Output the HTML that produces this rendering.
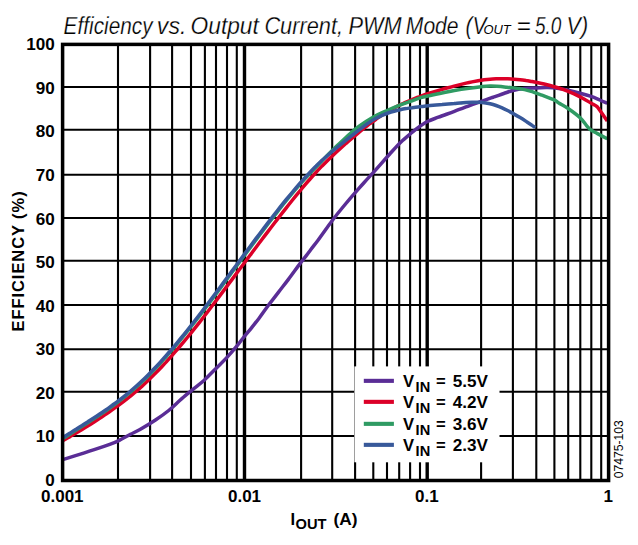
<!DOCTYPE html>
<html lang="en"><head><meta charset="utf-8"><title>Efficiency vs. Output Current</title>
<style>html,body{margin:0;padding:0;background:#fff}svg{display:block}text{font-family:"Liberation Sans",Arial,sans-serif;fill:#000}.b{font-weight:bold}.t{font-style:italic;font-size:23.4px;stroke:#fff;stroke-width:.25px;paint-order:fill stroke}.ts{font-style:italic;font-size:12.8px}</style></head><body>
<svg width="638" height="545" viewBox="0 0 638 545">
<rect width="638" height="545" fill="#fff"/>
<g stroke="#000" stroke-width="2.1" fill="none">
<line x1="118.0" y1="44.4" x2="118.0" y2="480.5"/>
<line x1="150.1" y1="44.4" x2="150.1" y2="480.5"/>
<line x1="172.1" y1="44.4" x2="172.1" y2="480.5"/>
<line x1="191.0" y1="44.4" x2="191.0" y2="480.5"/>
<line x1="204.9" y1="44.4" x2="204.9" y2="480.5"/>
<line x1="216.0" y1="44.4" x2="216.0" y2="480.5"/>
<line x1="227.0" y1="44.4" x2="227.0" y2="480.5"/>
<line x1="236.8" y1="44.4" x2="236.8" y2="480.5"/>
<line x1="301.1" y1="44.4" x2="301.1" y2="480.5"/>
<line x1="332.2" y1="44.4" x2="332.2" y2="480.5"/>
<line x1="355.1" y1="44.4" x2="355.1" y2="480.5"/>
<line x1="373.3" y1="44.4" x2="373.3" y2="480.5"/>
<line x1="387.0" y1="44.4" x2="387.0" y2="480.5"/>
<line x1="399.2" y1="44.4" x2="399.2" y2="480.5"/>
<line x1="410.1" y1="44.4" x2="410.1" y2="480.5"/>
<line x1="420.0" y1="44.4" x2="420.0" y2="480.5"/>
<line x1="481.1" y1="44.4" x2="481.1" y2="480.5"/>
<line x1="512.9" y1="44.4" x2="512.9" y2="480.5"/>
<line x1="536.3" y1="44.4" x2="536.3" y2="480.5"/>
<line x1="554.4" y1="44.4" x2="554.4" y2="480.5"/>
<line x1="568.2" y1="44.4" x2="568.2" y2="480.5"/>
<line x1="580.3" y1="44.4" x2="580.3" y2="480.5"/>
<line x1="591.3" y1="44.4" x2="591.3" y2="480.5"/>
<line x1="601.2" y1="44.4" x2="601.2" y2="480.5"/>
<line x1="62.6" y1="87.0" x2="608.6" y2="87.0"/>
<line x1="62.6" y1="129.8" x2="608.6" y2="129.8"/>
<line x1="62.6" y1="174.8" x2="608.6" y2="174.8"/>
<line x1="62.6" y1="218.0" x2="608.6" y2="218.0"/>
<line x1="62.6" y1="260.7" x2="608.6" y2="260.7"/>
<line x1="62.6" y1="305.0" x2="608.6" y2="305.0"/>
<line x1="62.6" y1="349.2" x2="608.6" y2="349.2"/>
<line x1="62.6" y1="391.8" x2="608.6" y2="391.8"/>
<line x1="62.6" y1="436.0" x2="608.6" y2="436.0"/>
</g>
<g stroke="#000" stroke-width="3.4" fill="none">
<line x1="244.5" y1="44.4" x2="244.5" y2="480.5"/>
<line x1="427.2" y1="44.4" x2="427.2" y2="480.5"/>
</g>
<g fill="none" stroke-width="3.5" stroke-linejoin="round" stroke-linecap="butt">
<path stroke="#5a2d96" d="M62.5,459.7 C62.8,459.6 62.4,459.7 64.4,459.1 C66.4,458.5 70.5,457.2 74.7,455.9 C78.9,454.6 84.5,452.8 89.4,451.2 C94.3,449.6 99.8,447.8 104.0,446.4 C108.2,445.0 111.3,443.9 114.3,442.7 C117.2,441.5 119.0,440.4 121.7,439.0 C124.4,437.6 127.5,435.9 130.5,434.3 C133.6,432.7 135.8,431.9 140.0,429.5 C144.2,427.1 150.7,423.2 155.5,420.0 C160.3,416.8 164.6,413.8 168.7,410.5 C172.8,407.2 176.2,403.7 180.0,400.3 C183.8,396.9 187.7,393.7 191.7,390.3 C195.7,386.9 200.1,383.9 204.2,380.2 C208.2,376.5 212.2,372.2 216.0,368.4 C219.8,364.6 223.5,361.2 227.0,357.4 C230.5,353.6 234.3,349.2 237.2,345.7 C240.1,342.1 242.1,339.2 244.6,336.1 C247.1,333.0 249.5,330.3 251.9,327.3 C254.3,324.3 256.3,321.9 259.1,318.2 C261.9,314.5 265.4,309.3 268.6,305.0 C271.8,300.7 274.9,296.9 278.2,292.6 C281.5,288.3 285.0,283.9 288.4,279.4 C291.8,274.9 295.8,269.3 298.7,265.4 C301.6,261.5 304.1,258.5 306.1,255.9 C308.1,253.3 308.5,252.7 310.5,250.0 C312.5,247.3 314.6,244.8 318.2,240.0 C321.8,235.2 327.8,226.5 331.9,221.0 C336.0,215.5 339.1,211.7 343.0,207.0 C346.9,202.3 351.4,197.0 355.0,192.9 C358.6,188.8 361.4,185.5 364.4,182.2 C367.4,178.8 370.2,175.9 373.0,172.8 C375.8,169.7 378.2,167.0 381.0,163.8 C383.8,160.6 386.7,157.3 390.0,153.7 C393.3,150.0 397.3,145.4 401.0,141.9 C404.7,138.4 408.9,135.1 412.0,132.5 C415.1,129.9 417.1,128.3 419.7,126.5 C422.3,124.7 424.3,123.0 427.4,121.5 C430.5,120.0 433.9,118.9 438.4,117.2 C442.9,115.5 449.3,113.3 454.4,111.4 C459.5,109.5 464.6,107.5 469.0,105.8 C473.4,104.1 477.4,102.8 481.1,101.5 C484.8,100.2 488.8,98.7 491.1,97.9 C493.4,97.1 492.9,97.4 495.0,96.7 C497.1,96.0 500.8,94.5 503.8,93.5 C506.8,92.5 509.5,91.3 512.9,90.5 C516.3,89.7 520.5,89.0 524.4,88.6 C528.3,88.2 532.2,88.1 536.1,87.9 C540.0,87.7 544.0,87.5 547.8,87.6 C551.6,87.7 555.4,88.1 558.8,88.6 C562.2,89.0 564.5,89.5 568.1,90.3 C571.7,91.1 576.3,92.2 580.1,93.2 C583.9,94.2 587.6,95.2 591.1,96.4 C594.6,97.6 598.2,99.4 600.9,100.5 C603.6,101.6 606.2,102.8 607.3,103.2"/>
<path stroke="#dc0028" d="M62.5,440.8 C62.8,440.7 62.8,440.6 64.1,439.9 C65.4,439.2 68.1,437.7 70.1,436.6 C72.1,435.4 74.1,434.3 76.1,433.1 C78.1,431.9 80.1,430.7 82.1,429.5 C84.1,428.3 86.1,427.1 88.1,425.8 C90.1,424.6 92.1,423.3 94.1,422.0 C96.1,420.7 98.1,419.4 100.1,418.1 C102.1,416.8 104.1,415.4 106.1,414.1 C108.1,412.7 110.1,411.3 112.1,409.9 C114.1,408.5 116.1,407.1 118.1,405.6 C120.1,404.1 122.1,402.6 124.1,401.1 C126.1,399.6 128.1,398.0 130.1,396.4 C132.1,394.7 134.1,393.1 136.1,391.4 C138.1,389.7 140.1,387.9 142.1,386.1 C144.1,384.3 146.1,382.4 148.1,380.5 C150.1,378.6 152.1,376.6 154.1,374.6 C156.1,372.6 158.1,370.6 160.1,368.5 C162.1,366.4 164.1,364.2 166.1,362.1 C168.1,359.9 170.1,357.7 172.1,355.4 C174.1,353.1 176.1,350.8 178.1,348.5 C180.1,346.2 182.1,343.8 184.1,341.4 C186.1,339.0 188.1,336.5 190.1,334.1 C192.1,331.6 194.1,329.1 196.1,326.6 C198.1,324.1 200.1,321.5 202.1,319.0 C204.1,316.4 206.1,313.8 208.1,311.2 C210.1,308.6 212.1,306.0 214.1,303.3 C216.1,300.7 218.1,298.0 220.1,295.4 C222.1,292.7 224.1,290.1 226.1,287.4 C228.1,284.7 230.1,282.0 232.1,279.4 C234.1,276.7 236.1,274.0 238.1,271.3 C240.1,268.6 242.1,266.0 244.1,263.3 C246.1,260.6 248.1,257.9 250.1,255.3 C252.1,252.6 254.1,249.9 256.1,247.3 C258.1,244.6 260.1,241.9 262.1,239.3 C264.1,236.6 266.1,234.0 268.1,231.4 C270.1,228.7 272.1,226.1 274.1,223.5 C276.1,220.9 278.1,218.3 280.1,215.7 C282.1,213.2 284.1,210.6 286.1,208.1 C288.1,205.5 290.1,203.0 292.1,200.5 C294.1,198.0 296.1,195.5 298.1,193.1 C300.1,190.7 302.1,188.3 304.1,185.9 C306.1,183.5 308.1,181.2 310.1,179.0 C312.1,176.7 314.1,174.5 316.1,172.3 C318.1,170.1 320.1,168.0 322.1,165.9 C324.1,163.9 326.1,161.9 328.1,159.9 C330.1,158.0 332.1,156.1 334.1,154.2 C336.1,152.3 338.1,150.5 340.1,148.7 C342.1,146.9 344.1,145.1 346.1,143.3 C348.1,141.6 350.1,139.9 352.1,138.2 C354.1,136.5 356.1,134.8 358.1,133.1 C360.1,131.4 362.1,129.8 364.1,128.2 C366.1,126.6 368.1,125.1 370.1,123.5 C372.1,122.0 374.1,120.6 376.1,119.2 C378.1,117.7 380.1,116.4 382.1,115.1 C384.1,113.8 386.1,112.6 388.1,111.4 C390.1,110.2 392.1,109.1 394.1,108.0 C396.1,106.9 398.1,105.9 400.1,104.9 C402.1,104.0 404.1,103.0 406.1,102.1 C408.1,101.2 410.1,100.4 412.1,99.6 C414.1,98.7 416.1,98.0 418.1,97.2 C420.1,96.5 422.1,95.7 424.1,95.0 C426.1,94.3 428.1,93.7 430.1,93.0 C432.1,92.4 434.1,91.8 436.1,91.2 C438.1,90.6 440.1,90.0 442.1,89.4 C444.1,88.8 446.1,88.3 448.1,87.7 C450.1,87.2 452.1,86.7 454.1,86.1 C456.1,85.6 458.1,85.1 460.1,84.6 C462.1,84.1 464.1,83.6 466.1,83.1 C468.1,82.7 470.1,82.3 472.1,81.9 C474.1,81.5 476.1,81.1 478.1,80.7 C480.1,80.4 482.1,80.1 484.1,79.8 C486.1,79.6 488.1,79.4 490.1,79.2 C492.1,79.0 494.1,78.9 496.1,78.8 C498.1,78.7 500.1,78.7 502.1,78.7 C504.1,78.7 506.1,78.8 508.1,78.8 C510.1,78.9 512.1,79.0 514.1,79.2 C516.1,79.4 518.1,79.6 520.1,79.8 C522.1,80.0 524.1,80.3 526.1,80.6 C528.1,80.8 530.1,81.2 532.1,81.5 C534.1,81.9 536.1,82.3 538.1,82.7 C540.1,83.1 542.1,83.5 544.1,84.0 C546.1,84.5 548.1,85.0 550.1,85.5 C552.1,86.0 554.1,86.6 556.1,87.2 C558.1,87.8 560.1,88.4 562.1,89.1 C564.1,89.8 566.1,90.5 568.1,91.3 C570.1,92.1 572.1,93.0 574.1,93.9 C576.1,94.9 578.1,95.9 580.1,96.9 C582.1,98.0 584.1,99.2 586.1,100.3 C588.1,101.4 590.3,102.7 592.1,103.8 C593.9,104.8 595.5,105.2 597.0,106.6 C598.5,108.1 599.7,110.2 601.4,112.6 C603.1,115.0 606.3,119.6 607.3,121.0"/>
<path stroke="#2f9b63" d="M62.5,438.5 C62.8,438.4 63.1,438.3 64.5,437.5 C65.8,436.7 68.5,434.9 70.5,433.7 C72.5,432.4 74.5,431.1 76.5,429.8 C78.5,428.6 80.5,427.3 82.5,426.1 C84.5,424.8 86.5,423.5 88.5,422.2 C90.5,421.0 92.5,419.7 94.5,418.4 C96.5,417.1 98.5,415.8 100.5,414.4 C102.5,413.1 104.5,411.7 106.5,410.3 C108.5,408.9 110.5,407.5 112.5,406.1 C114.5,404.6 116.5,403.1 118.5,401.6 C120.5,400.1 122.5,398.5 124.5,396.9 C126.5,395.3 128.5,393.7 130.6,392.0 C132.6,390.3 134.6,388.6 136.6,386.8 C138.6,385.0 140.6,383.2 142.6,381.3 C144.6,379.4 146.6,377.4 148.6,375.4 C150.6,373.4 152.6,371.4 154.6,369.3 C156.6,367.2 158.6,365.0 160.6,362.8 C162.6,360.7 164.6,358.4 166.6,356.2 C168.6,353.9 170.6,351.6 172.6,349.2 C174.6,346.9 176.6,344.5 178.6,342.1 C180.6,339.6 182.6,337.2 184.6,334.7 C186.6,332.2 188.6,329.7 190.6,327.2 C192.7,324.6 194.7,322.1 196.7,319.5 C198.7,316.9 200.7,314.3 202.7,311.6 C204.7,309.0 206.7,306.4 208.7,303.7 C210.7,301.0 212.7,298.4 214.7,295.7 C216.7,293.0 218.7,290.3 220.7,287.6 C222.7,284.9 224.7,282.1 226.7,279.4 C228.7,276.7 230.7,274.0 232.7,271.3 C234.7,268.6 236.7,265.8 238.7,263.1 C240.7,260.4 242.7,257.7 244.7,255.0 C246.7,252.3 248.7,249.6 250.7,246.9 C252.7,244.2 254.7,241.5 256.7,238.9 C258.7,236.2 260.7,233.5 262.7,230.9 C264.7,228.3 266.7,225.6 268.7,223.0 C270.7,220.4 272.7,217.8 274.7,215.3 C276.7,212.7 278.6,210.2 280.6,207.7 C282.6,205.1 284.6,202.6 286.6,200.2 C288.6,197.7 290.6,195.3 292.6,192.9 C294.6,190.5 296.6,188.2 298.6,185.9 C300.6,183.6 302.6,181.3 304.6,179.1 C306.6,176.9 308.6,174.8 310.6,172.7 C312.6,170.6 314.6,168.6 316.6,166.5 C318.5,164.5 320.4,162.5 322.3,160.5 C324.2,158.6 326.0,156.6 327.9,154.7 C329.8,152.8 331.6,151.0 333.5,149.2 C335.4,147.4 336.4,146.4 339.2,143.8 C341.9,141.2 346.7,136.6 350.0,133.7 C353.3,130.8 355.0,129.1 358.8,126.4 C362.6,123.7 368.3,120.0 373.0,117.3 C377.7,114.6 382.6,112.5 387.0,110.5 C391.4,108.5 395.3,106.8 399.2,105.3 C403.1,103.8 406.7,102.7 410.2,101.4 C413.7,100.2 416.7,98.8 420.0,97.8 C423.3,96.8 426.7,96.2 430.0,95.5 C433.3,94.8 435.6,94.3 439.7,93.5 C443.8,92.7 449.5,91.4 454.4,90.5 C459.3,89.6 464.6,88.8 469.0,88.2 C473.4,87.6 477.4,87.1 481.1,86.7 C484.8,86.3 486.8,86.0 491.1,86.1 C495.4,86.2 502.1,86.8 506.7,87.2 C511.3,87.6 514.6,87.9 518.5,88.6 C522.4,89.2 526.3,90.0 530.2,91.1 C534.1,92.2 538.0,93.7 542.0,95.2 C546.0,96.7 551.4,98.6 554.2,99.9 C557.0,101.2 556.5,101.6 558.8,103.0 C561.1,104.4 564.5,106.0 568.1,108.5 C571.7,111.0 577.0,114.8 580.1,117.7 C583.2,120.6 584.9,123.7 586.7,125.8 C588.5,127.9 589.4,128.9 591.1,130.2 C592.8,131.5 594.3,132.0 597.0,133.4 C599.7,134.8 605.6,137.9 607.3,138.8"/>
<path stroke="#38599a" d="M62.5,437.9 C62.8,437.8 62.8,437.7 64.1,436.9 C65.4,436.1 68.1,434.3 70.1,433.1 C72.1,431.8 74.1,430.5 76.1,429.3 C78.1,428.0 80.1,426.7 82.1,425.5 C84.1,424.2 86.1,422.9 88.1,421.6 C90.1,420.4 92.1,419.1 94.1,417.8 C96.1,416.5 98.1,415.2 100.1,413.8 C102.1,412.5 104.1,411.1 106.1,409.7 C108.1,408.4 110.1,406.9 112.1,405.5 C114.1,404.0 116.1,402.6 118.1,401.0 C120.1,399.5 122.1,398.0 124.1,396.4 C126.1,394.8 128.1,393.2 130.1,391.5 C132.1,389.8 134.1,388.1 136.1,386.3 C138.1,384.5 140.1,382.7 142.1,380.8 C144.1,378.9 146.1,376.9 148.1,374.9 C150.1,372.9 152.1,370.9 154.1,368.8 C156.1,366.7 158.1,364.6 160.1,362.4 C162.1,360.2 164.1,358.0 166.1,355.7 C168.1,353.4 170.1,351.1 172.1,348.8 C174.1,346.4 176.1,344.0 178.1,341.6 C180.1,339.2 182.1,336.7 184.1,334.3 C186.1,331.8 188.1,329.3 190.1,326.7 C192.1,324.2 194.1,321.6 196.1,319.0 C198.1,316.4 200.1,313.8 202.1,311.2 C204.1,308.6 206.1,305.9 208.1,303.3 C210.1,300.6 212.1,297.9 214.1,295.2 C216.1,292.6 218.1,289.9 220.1,287.2 C222.1,284.4 224.1,281.7 226.1,279.0 C228.1,276.3 230.1,273.6 232.1,270.9 C234.1,268.1 236.1,265.4 238.1,262.7 C240.1,260.0 242.1,257.3 244.1,254.6 C246.1,251.9 248.1,249.2 250.1,246.5 C252.1,243.8 254.1,241.1 256.1,238.4 C258.1,235.8 260.1,233.1 262.1,230.5 C264.1,227.8 266.1,225.2 268.1,222.6 C270.1,220.0 272.1,217.4 274.1,214.8 C276.1,212.3 278.1,209.7 280.1,207.2 C282.1,204.7 284.1,202.2 286.1,199.7 C288.1,197.3 290.1,194.9 292.1,192.5 C294.1,190.1 296.1,187.7 298.1,185.4 C300.1,183.1 302.1,180.9 304.1,178.6 C306.1,176.4 308.1,174.3 310.1,172.2 C312.1,170.1 314.1,168.0 316.1,166.1 C318.1,164.1 320.1,162.2 322.1,160.3 C324.1,158.5 326.1,156.7 328.1,155.0 C330.1,153.2 332.1,151.5 334.1,149.9 C336.1,148.2 338.1,146.6 340.1,145.0 C342.1,143.4 344.1,141.8 346.1,140.2 C348.1,138.6 350.1,137.0 352.1,135.4 C354.1,133.8 356.1,132.2 358.1,130.6 C360.1,129.1 362.1,127.5 364.1,126.1 C366.1,124.6 368.1,123.2 370.1,121.9 C372.1,120.6 374.1,119.3 376.1,118.3 C378.1,117.2 380.1,116.2 382.1,115.3 C384.1,114.5 386.1,113.7 388.1,113.0 C390.1,112.3 392.1,111.7 394.1,111.2 C396.1,110.6 398.1,110.2 400.1,109.8 C402.1,109.3 404.1,108.9 406.1,108.6 C408.1,108.2 410.1,107.9 412.1,107.7 C414.1,107.4 416.1,107.1 418.1,106.9 C420.1,106.7 422.1,106.4 424.1,106.2 C426.1,106.0 428.1,105.8 430.1,105.6 C432.1,105.4 434.1,105.2 436.1,105.0 C438.1,104.8 440.1,104.6 442.1,104.5 C444.1,104.3 446.1,104.1 448.1,103.9 C450.1,103.7 452.1,103.5 454.1,103.4 C456.1,103.2 458.1,103.1 460.1,102.9 C462.1,102.8 464.1,102.6 466.1,102.5 C468.1,102.4 470.1,102.3 472.1,102.2 C474.1,102.2 476.1,102.2 478.1,102.2 C480.1,102.3 482.1,102.4 484.1,102.7 C486.1,102.9 488.1,103.2 490.1,103.7 C492.1,104.2 494.1,104.8 496.1,105.5 C498.1,106.2 500.1,107.0 502.1,107.9 C504.1,108.8 506.1,109.8 508.1,110.8 C510.1,111.8 512.1,112.9 514.1,114.1 C516.1,115.2 518.1,116.4 520.1,117.6 C522.1,118.8 524.1,120.1 526.1,121.4 C528.1,122.7 530.6,124.3 532.1,125.4 C533.6,126.4 534.8,127.2 535.3,127.6"/>
</g>
<rect x="62.6" y="44.4" width="546.0" height="436.1" fill="none" stroke="#000" stroke-width="3.5"/>
<rect x="354.4" y="366.4" width="145.1" height="95.9" fill="#fff"/>
<rect x="363.8" y="378.8" width="30.1" height="4.1" fill="#5a2d96"/>
<text class="b" x="403.0" y="387.3" font-size="16.6">V</text>
<text class="b" x="415.6" y="392.2" font-size="14.6">IN</text>
<text class="b" x="436.0" y="387.3" font-size="16.6">=</text>
<text class="b" x="452.8" y="387.3" font-size="16.6" textLength="35.2" lengthAdjust="spacingAndGlyphs">5.5V</text>
<rect x="363.8" y="399.8" width="30.1" height="4.1" fill="#dc0028"/>
<text class="b" x="403.0" y="408.3" font-size="16.6">V</text>
<text class="b" x="415.6" y="413.2" font-size="14.6">IN</text>
<text class="b" x="436.0" y="408.3" font-size="16.6">=</text>
<text class="b" x="452.8" y="408.3" font-size="16.6" textLength="35.2" lengthAdjust="spacingAndGlyphs">4.2V</text>
<rect x="363.8" y="421.8" width="30.1" height="4.1" fill="#2f9b63"/>
<text class="b" x="403.0" y="430.4" font-size="16.6">V</text>
<text class="b" x="415.6" y="435.3" font-size="14.6">IN</text>
<text class="b" x="436.0" y="430.4" font-size="16.6">=</text>
<text class="b" x="452.8" y="430.4" font-size="16.6" textLength="35.2" lengthAdjust="spacingAndGlyphs">3.6V</text>
<rect x="363.8" y="442.8" width="30.1" height="4.1" fill="#38599a"/>
<text class="b" x="403.0" y="451.4" font-size="16.6">V</text>
<text class="b" x="415.6" y="456.3" font-size="14.6">IN</text>
<text class="b" x="436.0" y="451.4" font-size="16.6">=</text>
<text class="b" x="452.8" y="451.4" font-size="16.6" textLength="35.2" lengthAdjust="spacingAndGlyphs">2.3V</text>
<text class="b" x="54.7" y="50.3" font-size="17.1" text-anchor="end">100</text>
<text class="b" x="54.7" y="93.9" font-size="17.1" text-anchor="end">90</text>
<text class="b" x="54.7" y="137.4" font-size="17.1" text-anchor="end">80</text>
<text class="b" x="54.7" y="181.0" font-size="17.1" text-anchor="end">70</text>
<text class="b" x="54.7" y="224.6" font-size="17.1" text-anchor="end">60</text>
<text class="b" x="54.7" y="268.1" font-size="17.1" text-anchor="end">50</text>
<text class="b" x="54.7" y="311.7" font-size="17.1" text-anchor="end">40</text>
<text class="b" x="54.7" y="355.3" font-size="17.1" text-anchor="end">30</text>
<text class="b" x="54.7" y="398.9" font-size="17.1" text-anchor="end">20</text>
<text class="b" x="54.7" y="442.4" font-size="17.1" text-anchor="end">10</text>
<text class="b" x="54.7" y="486.0" font-size="17.1" text-anchor="end">0</text>
<text class="b" x="62.3" y="502" font-size="17" text-anchor="middle">0.001</text>
<text class="b" x="244.5" y="502" font-size="17" text-anchor="middle">0.01</text>
<text class="b" x="426.8" y="502" font-size="17" text-anchor="middle">0.1</text>
<text class="b" x="608.2" y="502" font-size="17" text-anchor="middle">1</text>
<text class="b" transform="translate(24.1,331.4) rotate(-90)" font-size="16.4" textLength="140" lengthAdjust="spacing">EFFICIENCY (%)</text>
<text class="b" x="290.6" y="525" font-size="16.6">I</text>
<text class="b" x="295.6" y="528.6" font-size="14" textLength="31" lengthAdjust="spacingAndGlyphs">OUT</text>
<text class="b" x="333.6" y="525" font-size="16.6" textLength="24" lengthAdjust="spacingAndGlyphs">(A)</text>
<text transform="translate(623,478.2) rotate(-90)" font-size="12" textLength="58" lengthAdjust="spacingAndGlyphs">07475-103</text>
<text class="t" x="63.6" y="33.7" textLength="89.0" lengthAdjust="spacingAndGlyphs">Efficiency</text>
<text class="t" x="156.8" y="33.7" textLength="29.6" lengthAdjust="spacingAndGlyphs">vs.</text>
<text class="t" x="190.6" y="33.7" textLength="68.2" lengthAdjust="spacingAndGlyphs">Output</text>
<text class="t" x="264.4" y="33.7" textLength="78.6" lengthAdjust="spacingAndGlyphs">Current,</text>
<text class="t" x="348.4" y="33.7" textLength="53.2" lengthAdjust="spacingAndGlyphs">PWM</text>
<text class="t" x="405.8" y="33.7" textLength="52.8" lengthAdjust="spacingAndGlyphs">Mode</text>
<text class="t" x="465.6" y="33.7" textLength="21.0" lengthAdjust="spacingAndGlyphs">(V</text>
<text class="ts" x="483.4" y="33.7" textLength="27.2" lengthAdjust="spacingAndGlyphs">OUT</text>
<text class="t" x="516.4" y="33.7" textLength="14.2" lengthAdjust="spacingAndGlyphs">=</text>
<text class="t" x="535.0" y="33.7" textLength="26.4" lengthAdjust="spacingAndGlyphs">5.0</text>
<text class="t" x="566.6" y="33.7" textLength="21.6" lengthAdjust="spacingAndGlyphs">V)</text>
</svg></body></html>
